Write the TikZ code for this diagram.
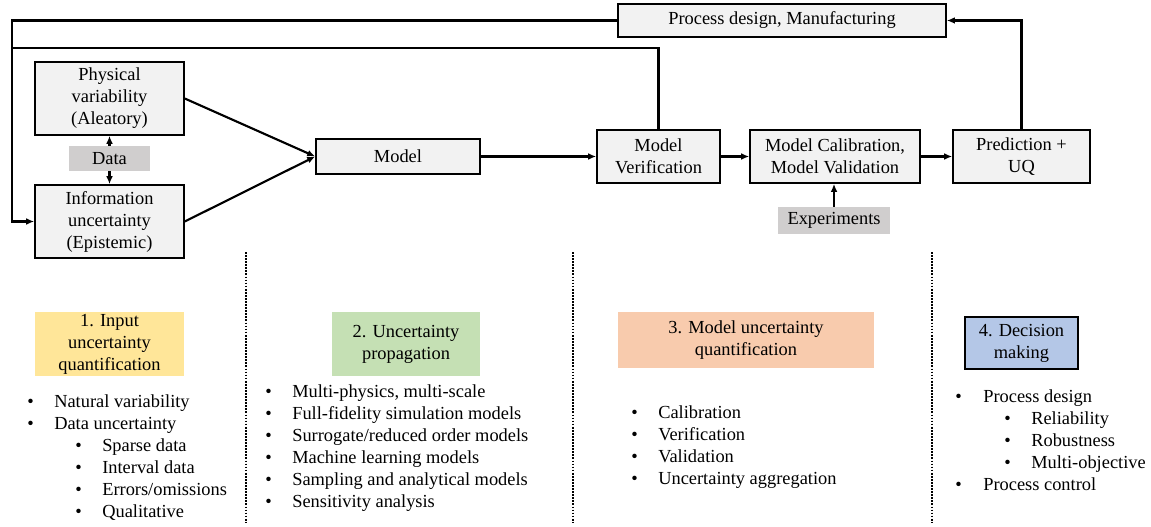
\documentclass[tikz,border=0pt]{standalone}
\usepackage{fontspec}
\setmainfont{Liberation Serif}
\usetikzlibrary{arrows.meta}
\newlength\px \setlength\px{0.75pt}
\definecolor{boxgray}{HTML}{F2F2F2}
\definecolor{tagray}{HTML}{D0CECE}
\definecolor{hyellow}{HTML}{FFE699}
\definecolor{hgreen}{HTML}{C5E0B4}
\definecolor{horange}{HTML}{F8CBAD}
\definecolor{hblue}{HTML}{B4C7E7}
\begin{document}
\begin{tikzpicture}[x=0.75pt,y=-0.75pt,
  every node/.style={font=\fontsize{13.8}{16.5}\selectfont},
  box/.style n args={2}{draw=black, line width=1.2pt, fill=boxgray, minimum width=#1\px, minimum height=#2\px, inner sep=0pt, align=center},
  tag/.style n args={2}{fill=tagray, minimum width=#1\px, minimum height=#2\px, inner sep=0pt, align=center},
  head/.style n args={3}{fill=#3, minimum width=#1\px, minimum height=#2\px, inner sep=0pt, align=center},
  conn/.style={line width=1.6pt, -{Latex[length=6pt,width=5pt]}},
  line/.style={line width=1.6pt},
  sep/.style={densely dotted, line width=1.3pt},
  itm/.style={anchor=base west, inner sep=0pt}
]
\useasboundingbox (0,0) rectangle (1151,527);

% top diagram
\node[box={149}{73}] (phys) at (109.5,98.5) {Physical\\variability\\(Aleatory)};
\node[tag={81}{25}] (data) at (109.5,158.5) {Data};
\node[box={149}{73}] (info) at (109.5,221.5) {Information\\uncertainty\\(Epistemic)};
\node[box={164}{35}] (model) at (398,156.5) {Model};
\node[box={123}{53}] (verif) at (658.5,156.5) {Model\\Verification};
\node[box={170}{53}] (calib) at (835,156.5) {Model Calibration,\\Model Validation};
\node[box={137}{53}] (pred) at (1021.5,156.5) {Prediction +\\UQ};
\node[box={328}{33}] (proc) at (782,20.5) {Process design, Manufacturing};
\node[tag={112}{27}] (exper) at (834,220.5) {Experiments};

\coordinate (L) at (12,100);
\coordinate (L2) at (12,48);

\draw[conn] (proc.west) -| (L) |- (info.west);
\draw[line] (verif.north) |- (L2);
\draw[conn] (pred.north) |- (proc.east);
\draw[conn] (phys.east) -- (model.west);
\draw[conn] (info.east) -- (model.west);
\draw[conn] (data.north) -- (phys.south);
\draw[conn] (data.south) -- (info.north);
\draw[conn] (model.east) -- (verif.west);
\draw[conn] (verif.east) -- (calib.west);
\draw[conn] (calib.east) -- (pred.west);
\draw[conn] (exper.north) -- (exper.north |- calib.south);

% separators
\draw[sep] (246,252) -- (246,522);
\draw[sep] (573,252) -- (573,522);
\draw[sep] (932,252) -- (932,522);

% headers
\node[head={149}{64}{hyellow}] (h1) at (109.5,344) {1. Input\\uncertainty\\quantification};
\node[head={148}{64}{hgreen}] (h2) at (406,344) {2. Uncertainty\\propagation};
\node[head={256}{56}{horange}] (h3) at (746,340) {3. Model uncertainty\\quantification};
\node[head={113}{52}{hblue}, draw=black, line width=1.2pt] (h4) at (1021.5,343) {4. Decision\\making};

% section 1 list
\node[itm] (b1a) at (27,407) {•};  \node[itm] (t1a) at (54,407) {Natural variability};
\node[itm] (b1b) at (27,429) {•};  \node[itm] (t1b) at (54,429) {Data uncertainty};
\node[itm] (b1c) at (75,451) {•};  \node[itm] (t1c) at (102,451) {Sparse data};
\node[itm] (b1d) at (75,473) {•};  \node[itm] (t1d) at (102,473) {Interval data};
\node[itm] (b1e) at (75,495) {•};  \node[itm] (t1e) at (102,495) {Errors/omissions};
\node[itm] (b1f) at (75,517) {•};  \node[itm] (t1f) at (102,517) {Qualitative};

% section 2 list
\node[itm] (b2a) at (265,397) {•};  \node[itm] (t2a) at (292,397) {Multi-physics, multi-scale};
\node[itm] (b2b) at (265,419) {•};  \node[itm] (t2b) at (292,419) {Full-fidelity simulation models};
\node[itm] (b2c) at (265,441) {•};  \node[itm] (t2c) at (292,441) {Surrogate/reduced order models};
\node[itm] (b2d) at (265,463) {•};  \node[itm] (t2d) at (292,463) {Machine learning models};
\node[itm] (b2e) at (265,485) {•};  \node[itm] (t2e) at (292,485) {Sampling and analytical models};
\node[itm] (b2f) at (265,507) {•};  \node[itm] (t2f) at (292,507) {Sensitivity analysis};

% section 3 list
\node[itm] (b3a) at (631,418) {•};  \node[itm] (t3a) at (658,418) {Calibration};
\node[itm] (b3b) at (631,440) {•};  \node[itm] (t3b) at (658,440) {Verification};
\node[itm] (b3c) at (631,462) {•};  \node[itm] (t3c) at (658,462) {Validation};
\node[itm] (b3d) at (631,484) {•};  \node[itm] (t3d) at (658,484) {Uncertainty aggregation};

% section 4 list
\node[itm] (b4a) at (955,402) {•};  \node[itm] (t4a) at (983,402) {Process design};
\node[itm] (b4b) at (1004,424) {•}; \node[itm] (t4b) at (1031,424) {Reliability};
\node[itm] (b4c) at (1004,446) {•}; \node[itm] (t4c) at (1031,446) {Robustness};
\node[itm] (b4d) at (1004,468) {•}; \node[itm] (t4d) at (1031,468) {Multi-objective};
\node[itm] (b4e) at (955,490) {•};  \node[itm] (t4e) at (983,490) {Process control};
\end{tikzpicture}
\end{document}
